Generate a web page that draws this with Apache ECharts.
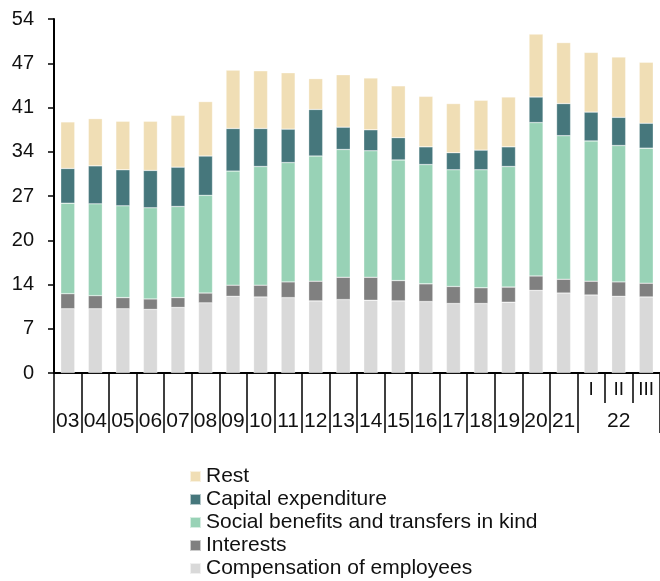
<!DOCTYPE html>
<html><head><meta charset="utf-8">
<script src="https://cdn.jsdelivr.net/npm/echarts@6/dist/echarts.min.js"></script>
<style>html,body{margin:0;padding:0;background:#fff}#c{width:660px;height:581px}</style>
</head><body><div id="c"></div>
<script>
var categories = ['03','04','05','06','07','08','09','10','11','12','13','14','15','16','17','18','19','20','21','I','II','III'];
var yearLabels = ['03','04','05','06','07','08','09','10','11','12','13','14','15','16','17','18','19','20','21','','22',''];
var quarterLabels = ['','','','','','','','','','','','','','','','','','','','I','II','III'];
var yTicks = [0, 6.75, 13.5, 20.25, 27, 33.75, 40.5, 47.25, 54];

var compensation = [9.8, 9.8, 9.8, 9.7, 10.0, 10.7, 11.7, 11.6, 11.5, 11.0, 11.2, 11.1, 11.0, 10.9, 10.6, 10.6, 10.8, 12.6, 12.2, 11.9, 11.7, 11.6];
var interests    = [2.3, 2.0, 1.7, 1.6, 1.5, 1.5, 1.7, 1.8, 2.4, 3.0, 3.4, 3.5, 3.1, 2.7, 2.6, 2.4, 2.3, 2.2, 2.1, 2.1, 2.2, 2.1];
var social       = [13.8, 14.0, 14.0, 13.9, 13.9, 14.9, 17.4, 18.1, 18.2, 19.1, 19.5, 19.3, 18.4, 18.2, 17.8, 18.0, 18.4, 23.4, 21.9, 21.4, 20.8, 20.6];
var capital      = [5.3, 5.8, 5.5, 5.7, 6.0, 6.0, 6.5, 5.8, 5.1, 7.1, 3.4, 3.2, 3.4, 2.7, 2.6, 3.0, 3.0, 3.9, 4.9, 4.4, 4.3, 3.8];
var rest         = [7.1, 7.2, 7.4, 7.5, 7.9, 8.3, 8.9, 8.8, 8.6, 4.7, 8.0, 7.9, 7.9, 7.7, 7.5, 7.6, 7.6, 9.6, 9.3, 9.1, 9.2, 9.3];

var seriesDefs = [
  {name: 'Compensation of employees', data: compensation, color: '#D9D9D9'},
  {name: 'Interests', data: interests, color: '#808080'},
  {name: 'Social benefits and transfers in kind', data: social, color: '#98D2B6'},
  {name: 'Capital expenditure', data: capital, color: '#46777C'},
  {name: 'Rest', data: rest, color: '#F0DEB5'}
];

var chart = echarts.init(document.getElementById('c'), null, {renderer: 'canvas'});
var font = 'Liberation Sans, Arial, sans-serif';
chart.setOption({
  animation: false,
  textStyle: {fontFamily: font},
  grid: {left: 54, top: 19, width: 614, bottom: 208, containLabel: false},
  legend: {
    orient: 'vertical', left: 184, top: 461, height: 140,
    data: ['Rest', 'Capital expenditure', 'Social benefits and transfers in kind', 'Interests', 'Compensation of employees'],
    itemWidth: 11, itemHeight: 11, itemGap: 2,
    icon: 'rect',
    textStyle: {fontSize: 21, color: '#111', fontFamily: font, lineHeight: 21}
  },
  xAxis: [{
    type: 'category', data: yearLabels, position: 'bottom',
    axisLine: {show: true, lineStyle: {color: '#000', width: 2}},
    axisTick: {show: true, length: 60, lineStyle: {color: '#000', width: 1.5},
      interval: function (i) { return i <= 19; }},
    axisLabel: {interval: 0, margin: 38, fontSize: 21, color: '#111', fontFamily: font}
  }, {
    type: 'category', data: quarterLabels, position: 'bottom', gridIndex: 0,
    axisLine: {show: false},
    axisTick: {show: true, length: 30, lineStyle: {color: '#000', width: 1.5},
      interval: function (i) { return i >= 20; }},
    axisLabel: {interval: 0, margin: 7, fontSize: 19, color: '#111', fontFamily: font}
  }],
  yAxis: {
    type: 'value', min: 0, max: 54, interval: 6.75,
    axisLine: {show: true, lineStyle: {color: '#000', width: 2}},
    axisTick: {show: true, length: 6, lineStyle: {color: '#000', width: 1.5}},
    splitLine: {show: false},
    axisLabel: {fontSize: 20, color: '#111', margin: 20, fontFamily: font,
      formatter: function (v) { return String(Math.round(v)); }}
  },
  series: seriesDefs.map(function (s) {
    return {
      name: s.name, type: 'bar', stack: 'total', data: s.data,
      barWidth: 14, xAxisIndex: 0,
      itemStyle: {color: s.color, borderColor: 'rgba(255,255,255,0.6)', borderWidth: 0.5}
    };
  })
});
</script>
</body></html>
